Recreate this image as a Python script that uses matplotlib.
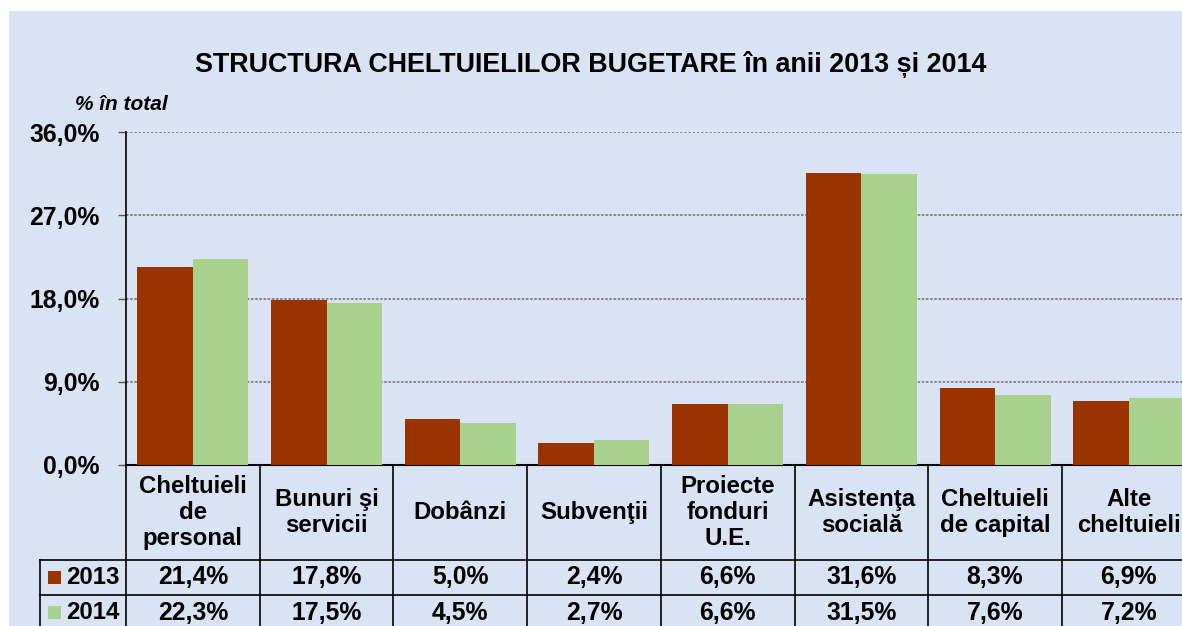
import numpy as np
import matplotlib.pyplot as plt
from matplotlib.patches import Rectangle

plt.rcParams['font.family'] = ['Liberation Sans', 'DejaVu Sans']
plt.rcParams['font.weight'] = 'bold'

#Date din grafic
categories = ["Cheltuieli\nde\npersonal", "Bunuri şi\nservicii", "Dobânzi", "Subvenţii",
              "Proiecte\nfonduri\nU.E.", "Asistenţa\nsocială", "Cheltuieli\nde capital",
              "Alte\ncheltuieli"]
years = ["2013", "2014"]
v2013 = [21.4, 17.8, 5.0, 2.4, 6.6, 31.6, 8.3, 6.9]
v2014 = [22.3, 17.5, 4.5, 2.7, 6.6, 31.5, 7.6, 7.2]
yticks = [0, 9, 18, 27, 36]

c2013 = "#993300"
c2014 = "#A9D18E"
bg = "#DAE3F3"

W, H = 1182, 626
fig = plt.figure(figsize=(W/100, H/100), dpi=100)
fig.patch.set_facecolor("white")
fig.patches.append(Rectangle((9/W, 0), 1, 1 - 11/H, transform=fig.transFigure,
                             facecolor=bg, edgecolor="none", zorder=-10))

# axes goes a bit past the right edge, as in the cropped original
left, right, top, bottom = 126, 126 + 8*133.7, 132, 465
ax = fig.add_axes([left/W, (H-bottom)/H, (right-left)/W, (bottom-top)/H])
ax.set_facecolor(bg)

x = np.arange(len(categories))
bw = 0.415
ax.bar(x - bw/2, v2013, bw, color=c2013, zorder=3)
ax.bar(x + bw/2, v2014, bw, color=c2014, zorder=3)

ax.set_xlim(-0.5, len(categories) - 0.5)
ax.set_ylim(0, 36)
ax.set_yticks(yticks)
ax.set_yticklabels([("%.1f%%" % t).replace(".", ",") for t in yticks], fontsize=17.8)
ax.tick_params(axis='y', length=6, width=1, pad=13, color="#555555")
ax.set_xticks([])
ax.yaxis.grid(True, linestyle=(0, (1.5, 1)), color="#777777", linewidth=1.2, zorder=0)
for s in ["top", "right"]:
    ax.spines[s].set_visible(False)
ax.spines["left"].set_linewidth(1.2)
ax.spines["bottom"].set_linewidth(1.5)

fig.text(591/W, 1 - 65/H, "STRUCTURA CHELTUIELILOR BUGETARE în anii 2013 și 2014",
         ha="center", va="center", fontsize=19.4, fontweight="bold")
fig.text(121/W, 1 - 104/H, "% în total", ha="center", va="center",
         fontsize=15, fontstyle="italic", fontweight="bold")

# tabel de date sub grafic
def ay(px):
    return (bottom - px) / (bottom - top)

r_head, r1, r2, r_end = ay(560), ay(595), ay(630), ay(640)
leg_x = -0.5 - 86/133.7
lk = dict(color="black", linewidth=1.2, clip_on=False, transform=ax.get_xaxis_transform())
ax.plot([leg_x, 7.5], [r_head, r_head], **lk)
ax.plot([leg_x, 7.5], [r1, r1], **lk)
ax.plot([leg_x, leg_x], [r_head, r_end], **lk)
ax.plot([-0.5, -0.5], [0, r_end], **lk)
for b in np.arange(0.5, len(categories), 1):
    ax.plot([b, b], [0, r_end], **lk)

tr = ax.get_xaxis_transform()
fs = 17.3
for i, c in enumerate(categories):
    ax.text(i, (0 + r_head)/2, c, ha="center", va="center", fontsize=fs,
            transform=tr, linespacing=1.15)
    ax.text(i, (r_head + r1)/2, ("%.1f%%" % v2013[i]).replace(".", ","),
            ha="center", va="center", fontsize=17.8, transform=tr)
    ax.text(i, (r1 + ay(630))/2, ("%.1f%%" % v2014[i]).replace(".", ","),
            ha="center", va="center", fontsize=17.8, transform=tr)

for yr, col, yy in [(years[0], c2013, (r_head + r1)/2), (years[1], c2014, (r1 + ay(630))/2)]:
    ax.add_patch(Rectangle((leg_x + 8/133.7, yy - 0.02), 13/133.7, 0.04, facecolor=col,
                           edgecolor="none", transform=tr, clip_on=False))
    ax.text(leg_x + 26/133.7, yy, yr, ha="left", va="center", fontsize=17.3, transform=tr)

fig.savefig("out.png", dpi=100, facecolor=fig.get_facecolor())
